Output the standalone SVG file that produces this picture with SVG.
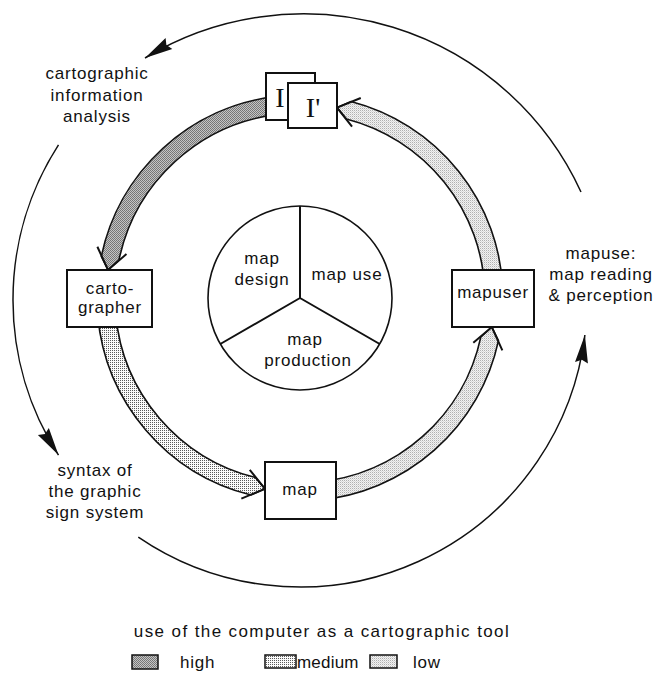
<svg xmlns="http://www.w3.org/2000/svg" width="655" height="683" viewBox="0 0 655 683">
  <style>
    .t { font-family: "Liberation Sans", Arial, sans-serif; font-size: 17px; letter-spacing: 0.8px; fill: #111; text-anchor: middle; }
    .ts { font-family: "Liberation Serif", "Times New Roman", serif; font-size: 28px; fill: #111; text-anchor: middle; }
    .box { fill: #fff; stroke: #111; stroke-width: 2; }
    .band { stroke: #111; stroke-width: 1.6; stroke-linejoin: miter; }
    .head { fill: none; stroke: #111; stroke-width: 2; stroke-linejoin: miter; }
    .cycle { fill: none; stroke: #111; stroke-width: 1.5; marker-end: url(#ah); }
    .swatch { stroke: #111; stroke-width: 1.5; }
  </style>
  <defs>
    <pattern id="pHigh" width="2" height="2" patternUnits="userSpaceOnUse">
      <rect width="2" height="2" fill="#c4c4c4"/>
      <rect x="0" y="0" width="1" height="1" fill="#747474"/>
      <rect x="1" y="1" width="1" height="1" fill="#7a7a7a"/>
    </pattern>
    <pattern id="pMedium" width="2" height="2" patternUnits="userSpaceOnUse">
      <rect width="2" height="2" fill="#fbfbfb"/>
      <rect x="0" y="0" width="1" height="1" fill="#5a5a5a"/>
    </pattern>
    <pattern id="pLow" width="2" height="2" patternUnits="userSpaceOnUse">
      <rect width="2" height="2" fill="#f2f2f2"/>
      <rect x="0" y="0" width="1" height="1" fill="#b0b0b0"/>
      <rect x="1" y="1" width="1" height="1" fill="#d8d8d8"/>
    </pattern>
    <marker id="ah" viewBox="-29 -8 30 16" refX="0" refY="0" markerWidth="30" markerHeight="16" markerUnits="userSpaceOnUse" orient="auto">
      <path d="M0,0 L-28,-6.5 L-25,0 L-28,6.5 Z" fill="#111"/>
    </marker>
  </defs>

  <rect width="655" height="683" fill="#fff"/>

  <g id="connectors">
    <!-- outer cycle -->
    <path class="cycle" d="M 581,192 A 305.6 305.6 0 0 0 145,58"/>
    <path class="cycle" d="M 58.5,144.9 A 287 287 0 0 0 58.5,455.1"/>
    <path class="cycle" d="M 138.3,537.1 A 287 287 0 0 0 584.9,335"/>

    <!-- inner ring: information -> cartographer (high) -->
    <path class="band" fill="url(#pHigh)" d="M 275.26,96.51 A 203 203 0 0 0 101.32,256.35 L 108.03,269.99 L 118.94,260.04 A 185 185 0 0 1 277.45,114.38 Z"/>
    <path class="head" d="M 97.38,246.73 L 108.03,269.99 L 126.47,254.09"/>
    <!-- cartographer -> map (medium) -->
    <path class="band" fill="url(#pMedium)" d="M 97.77,315.69 A 203 203 0 0 0 251.10,495.02 L 264.98,488.81 L 255.43,477.55 A 185 185 0 0 1 115.70,314.12 Z"/>
    <path class="head" d="M 241.34,498.60 L 264.98,488.81 L 249.76,469.81"/>
    <!-- map -> mapuser (low) -->
    <path class="band" fill="url(#pLow)" d="M 317.69,500.23 A 203 203 0 0 0 498.46,340.69 L 491.82,327.01 L 480.86,336.91 A 185 185 0 0 1 316.12,482.30 Z"/>
    <path class="head" d="M 502.34,350.33 L 491.82,327.01 L 473.30,342.82"/>
    <!-- mapuser -> information (low) -->
    <path class="band" fill="url(#pLow)" d="M 502.88,290.92 A 203 203 0 0 0 350.97,101.50 L 337.02,107.56 L 346.45,118.93 A 185 185 0 0 1 484.89,291.54 Z"/>
    <path class="head" d="M 360.76,98.03 L 337.02,107.56 L 352.04,126.73"/>
  </g>

  <g id="node-information">
    <rect class="box" x="266" y="73" width="49" height="47"/>
    <text class="ts" x="280" y="107">I</text>
    <rect class="box" x="288" y="83" width="49" height="45"/>
    <text class="ts" x="313" y="117">I'</text>
  </g>

  <g id="node-cartographer">
    <rect class="box" x="67" y="270" width="85" height="57"/>
    <text class="t" x="110" y="294">carto-</text>
    <text class="t" x="110" y="313">grapher</text>
  </g>

  <g id="node-map">
    <rect class="box" x="265" y="462" width="71" height="57"/>
    <text class="t" x="300" y="495">map</text>
  </g>

  <g id="node-mapuser">
    <rect class="box" x="452" y="270" width="82" height="57"/>
    <text class="t" x="493" y="298">mapuser</text>
  </g>

  <g id="node-core">
    <circle cx="300" cy="298" r="92" fill="#fff" stroke="#111" stroke-width="1.6"/>
    <path d="M300,298 V206 M300,298 L220.3,344 M300,298 L379.7,344" fill="none" stroke="#111" stroke-width="2"/>
    <text class="t" x="262" y="264">map</text>
    <text class="t" x="262" y="285">design</text>
    <text class="t" x="347" y="280">map use</text>
    <text class="t" x="305" y="345">map</text>
    <text class="t" x="308" y="366">production</text>
  </g>

  <g id="label-analysis">
    <text class="t" x="97" y="79">cartographic</text>
    <text class="t" x="97" y="101">information</text>
    <text class="t" x="97" y="122">analysis</text>
  </g>

  <g id="label-syntax">
    <text class="t" x="95" y="476">syntax of</text>
    <text class="t" x="95" y="497">the graphic</text>
    <text class="t" x="95" y="518">sign system</text>
  </g>

  <g id="label-mapuse">
    <text class="t" x="601" y="259">mapuse:</text>
    <text class="t" x="601" y="280">map reading</text>
    <text class="t" x="601" y="301">&amp; perception</text>
  </g>

  <g id="legend">
    <text class="t" x="322" y="637" style="letter-spacing:1.4px">use of the computer as a cartographic tool</text>
    <rect class="swatch" x="132" y="655" width="26" height="14" fill="url(#pHigh)"/>
    <text class="t" x="180" y="668" style="text-anchor:start">high</text>
    <rect class="swatch" x="265" y="655" width="31" height="13" fill="url(#pMedium)"/>
    <text class="t" x="297" y="668" style="text-anchor:start;letter-spacing:0.2px">medium</text>
    <rect class="swatch" x="370" y="655" width="27" height="13" fill="url(#pLow)"/>
    <text class="t" x="413" y="668" style="text-anchor:start">low</text>
  </g>
</svg>
